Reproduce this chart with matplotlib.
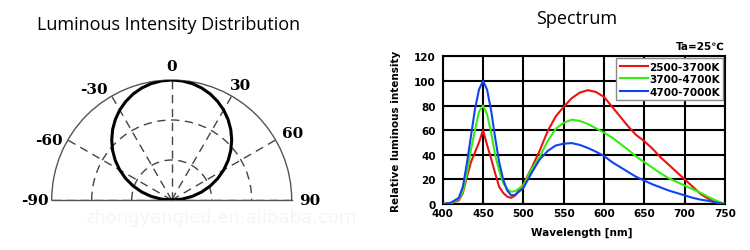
import numpy as np
import matplotlib
matplotlib.use("Agg")
import matplotlib.pyplot as plt

# ---------------- data ----------------
# Luminous intensity distribution (relative intensity vs angle)
angles_deg = [-90, -85, -80, -75, -70, -65, -60, -55, -50, -45, -40, -35, -30, -25, -20, -15, -10, -5, 0,
              5, 10, 15, 20, 25, 30, 35, 40, 45, 50, 55, 60, 65, 70, 75, 80, 85, 90]
intensity = [0.0, 0.087, 0.174, 0.259, 0.342, 0.423, 0.5, 0.574, 0.643, 0.707, 0.766, 0.819, 0.866, 0.906,
             0.94, 0.966, 0.985, 0.996, 1.0, 0.996, 0.985, 0.966, 0.94, 0.906, 0.866, 0.819, 0.766, 0.707,
             0.643, 0.574, 0.5, 0.423, 0.342, 0.259, 0.174, 0.087, 0.0]
polar_tick_angles = [-90, -60, -30, 0, 30, 60, 90]
polar_tick_labels = ["-90", "-60", "-30", "0", "30", "60", "90"]

# Spectrum
wavelength = [400, 410, 420, 425, 430, 435, 440, 445, 450, 455, 460, 465, 470, 475, 480, 485, 490,
              500, 510, 520, 530, 540, 550, 560, 570, 580, 590, 600, 610, 620, 630, 640, 650, 660,
              670, 680, 690, 700, 710, 720, 730, 740, 750]
warm = [0, 0.5, 3, 9, 22, 34, 42, 50, 60, 48, 37, 25, 14, 9, 6, 5, 7,
        16, 29, 43, 59, 71, 79, 86, 90.5, 92.5, 91, 87, 79, 71, 63, 56, 51, 45,
        38, 32, 26, 20, 14, 8, 4, 1, 0]
neutral = [0, 0.5, 4, 10, 25, 44, 60, 75, 80, 73, 58, 40, 27, 17, 12, 10, 10.5,
           15, 28, 38, 51, 61, 66, 68.5, 67.5, 65, 61.5, 58, 54, 49, 44, 38.5, 34, 29.5,
           25, 21, 18, 15, 12, 9, 5.5, 2.5, 0]
cool = [0, 1, 5, 14, 33, 55, 77, 93, 100, 93, 76, 54, 34, 20, 11, 7, 7.5,
        13, 25, 36, 43, 47.5, 49, 49.5, 48, 45.5, 42.5, 39, 34, 30, 26, 22, 19, 16,
        13.5, 11, 9, 7, 5, 3.5, 2.5, 1, 0]
series_labels = ["2500-3700K", "3700-4700K", "4700-7000K"]
series_colors = ["#ee1111", "#33ee11", "#1144ee"]
x_ticks = [400, 450, 500, 550, 600, 650, 700, 750]
y_ticks = [0, 20, 40, 60, 80, 100, 120]

# ---------------- figure ----------------
W, H = 750, 251
fig = plt.figure(figsize=(W / 100, H / 100), dpi=100)
fig.patch.set_facecolor("white")

# watermark
fig.text(85 / W, 1 - 218 / H, "zhongyangled.en.alibaba.com", fontsize=13, color="#f5f5f5",
         family="DejaVu Sans", ha="left", va="center", zorder=0)

# titles
fig.text(169 / W, 1 - 25 / H, "Luminous Intensity Distribution", fontsize=13,
         family="Open Sans", ha="center", va="center")
fig.text(577 / W, 1 - 19 / H, "Spectrum", fontsize=13, family="Open Sans",
         ha="center", va="center")

# ---------------- polar ----------------
cx, cy, R = 171.7, 201.0, 120.0
# square box; the half-disc wedge is centred vertically inside it
box_top = cy - R / 2 - R
pax = fig.add_axes([(cx - R) / W, (H - (box_top + 2 * R)) / H, 2 * R / W, 2 * R / H],
                   projection="polar")
pax.set_theta_zero_location("N")
pax.set_theta_direction(-1)
pax.set_thetamin(-90)
pax.set_thetamax(90)
pax.set_rlim(0, 1)
pax.set_facecolor("none")
pax.patch.set_visible(False)
pax.set_rgrids([1 / 3, 2 / 3], labels=["", ""])
pax.set_thetagrids(polar_tick_angles, labels=[""] * len(polar_tick_angles))
pax.grid(True, color="#444444", lw=1.0, ls=(0, (6, 4)))
for sp in pax.spines.values():
    sp.set_color("#555555")
    sp.set_linewidth(1.0)
pax.tick_params(length=0)
pax.plot(np.deg2rad(angles_deg), intensity, color="black", lw=2.2, zorder=5)

label_pos = {"-90": (-90, 1.14), "-60": (-64, 1.14), "-30": (-35, 1.13), "0": (0, 1.12),
             "30": (31, 1.12), "60": (61, 1.15), "90": (90, 1.15)}
for lab in polar_tick_labels:
    a, r = label_pos[lab]
    pax.text(np.deg2rad(a), r, lab, ha="center", va="center", fontsize=11,
             fontweight="bold", family="DejaVu Serif", clip_on=False)

# ---------------- spectrum ----------------
l, r_, t, b = 442.7, 725.0, 57.3, 205.0
ax = fig.add_axes([l / W, (H - b) / H, (r_ - l) / W, (b - t) / H])
for y, lab, c in zip([warm, neutral, cool], series_labels, series_colors):
    ax.plot(wavelength, y, color=c, lw=1.5, label=lab, zorder=3)
ax.set_xlim(400, 750)
ax.set_ylim(0, 120)
ax.set_xticks(x_ticks)
ax.set_yticks(y_ticks)
ax.grid(True, color="black", lw=1.5, zorder=1)
ax.set_axisbelow(True)
for sp in ax.spines.values():
    sp.set_color("black")
    sp.set_linewidth(1.5)
ax.tick_params(length=0, labelsize=7.5)
ax.tick_params(axis="x", pad=3)
ax.tick_params(axis="y", pad=5)
for tl in ax.get_xticklabels() + ax.get_yticklabels():
    tl.set_fontweight("bold")
ax.set_xlabel("Wavelength [nm]", fontsize=7.5, fontweight="bold")
ax.set_ylabel("Relative luminous intensity", fontsize=7.5, fontweight="bold")
ax.xaxis.set_label_coords(0.493, -0.156)
ax.yaxis.set_label_coords(-0.148, 0.5)
leg = ax.legend(loc="upper right", bbox_to_anchor=(1.0, 1.0), borderaxespad=0.15,
                fancybox=False, framealpha=1, edgecolor="#888888", handlelength=2.7,
                handletextpad=0.1, labelspacing=0.25, borderpad=0.35,
                prop={"size": 7.5, "weight": "bold"})
leg.get_frame().set_linewidth(1.0)
leg.set_zorder(10)
ax.text(1.0, 1.07, "Ta=25℃", transform=ax.transAxes, ha="right", va="center",
        fontsize=7.5, fontweight="bold")

fig.savefig("out.png", dpi=100)
